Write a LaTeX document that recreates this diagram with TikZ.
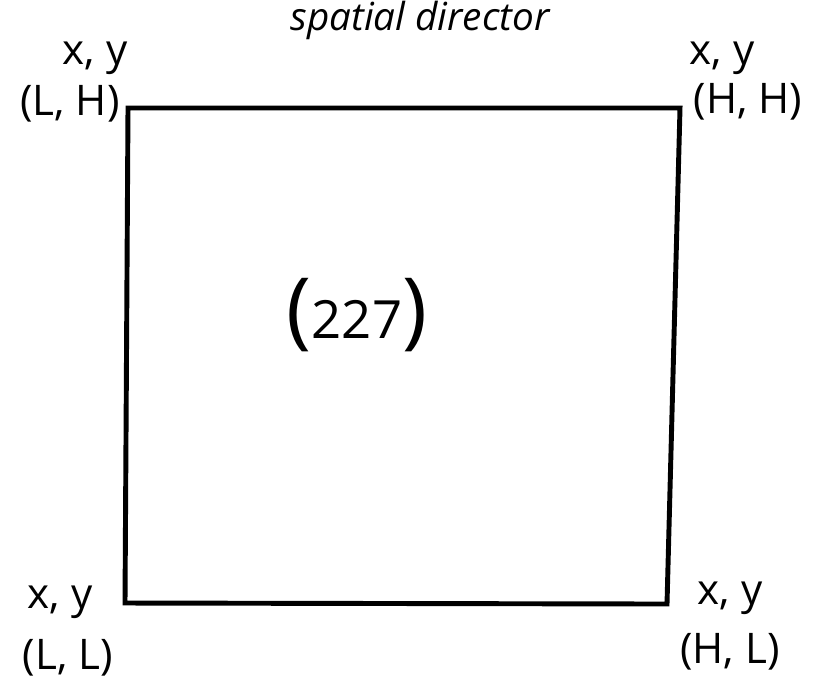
\documentclass[tikz,border=0pt]{standalone}
\usepackage{fontspec}
\setmainfont{Open Sans}
\usetikzlibrary{positioning}
\tikzset{
  frame/.style={draw=black, line width=2.8pt, line join=miter},
  cornerlabel/.style={font=\fontsize{24}{28}\selectfont, inner sep=0pt, align=center},
  pagetitle/.style={font=\fontsize{22}{26}\selectfont\itshape, inner sep=0pt},
  cellnumber/.style={font=\fontsize{30}{34}\selectfont, inner sep=0pt},
}
\newcommand{\bigparen}[1]{{\fontsize{48}{48}\selectfont #1}}

\begin{document}
\begin{tikzpicture}[x=0.02cm, y=-0.02cm]
  \useasboundingbox (0,0) rectangle (817,698);

  % title
  \node[pagetitle] (title) at (420,20) {spatial director};

  % corners of the square
  \coordinate (LH) at (128,108);
  \coordinate (HH) at (680,108);
  \coordinate (HL) at (667,604);
  \coordinate (LL) at (125,603);
  \draw[frame] (LH) -- (HH) -- (HL) -- (LL) -- cycle;

  % corner labels
  \node[cornerlabel] (lhxy)  at (95,58)   {x, y};
  \node[cornerlabel] (lhval) at (70,104)  {(L, H)};
  \node[cornerlabel] (hhxy)  at (722,58)  {x, y};
  \node[cornerlabel] (hhval) at (748,102) {(H, H)};
  \node[cornerlabel] (llxy)  at (60,602)  {x, y};
  \node[cornerlabel] (llval) at (68,658)  {(L, L)};
  \node[cornerlabel] (hlxy)  at (730,598) {x, y};
  \node[cornerlabel] (hlval) at (730,652) {(H, L)};

  % cell number
  \node[cellnumber] (cell) at (357,315) {\bigparen{(}227\bigparen{)}};

\end{tikzpicture}
\end{document}
